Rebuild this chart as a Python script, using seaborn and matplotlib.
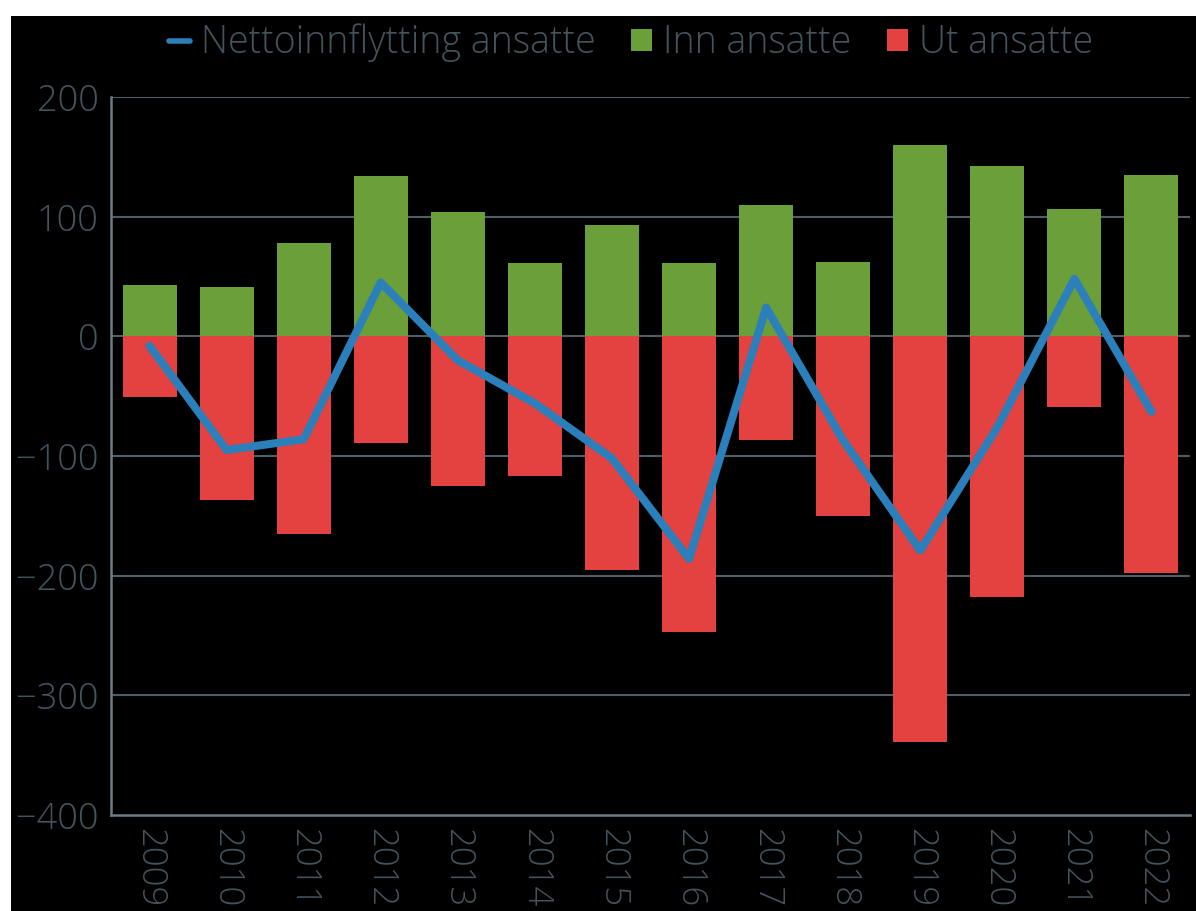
import numpy as np
import pandas as pd
import matplotlib
matplotlib.use("Agg")
import matplotlib.pyplot as plt
import seaborn as sns
from matplotlib.lines import Line2D
from matplotlib.patches import Patch, Rectangle

# Data
years = [str(y) for y in range(2009, 2023)]
inn_ansatte = [43, 41, 78, 134, 104, 61, 93, 61, 110, 62, 160, 142, 106, 135]
ut_ansatte = [-51, -137, -165, -89, -125, -117, -195, -247, -87, -150, -339, -218, -59, -198]
netto = [-8, -95, -86, 45, -20, -56, -102, -186, 24, -87, -179, -76, 48, -63]

GREEN = "#6a9f3a"
RED = "#e34240"
BLUE = "#2b7fba"
TEXT = "#44545d"
GRID = "#4f5e66"
AXIS = "#6b7c86"

sns.set_style("dark")
plt.rcParams["font.family"] = ["Open Sans", "DejaVu Sans"]
plt.rcParams["font.weight"] = "light"

df = pd.DataFrame({"year": years, "inn": inn_ansatte, "ut": ut_ansatte, "netto": netto})

fig = plt.figure(figsize=(11.96, 9.11), dpi=100, facecolor="white")
# svart bakgrunn bak grafen
fig.patches.append(Rectangle((11 / 1196, 0), 1 - 11 / 1196, 1 - 16 / 911,
                             transform=fig.transFigure, facecolor="black",
                             edgecolor="none", zorder=-10))
ax = fig.add_axes([111 / 1196, 1 - 815 / 911, (1190 - 111) / 1196, (815 - 97) / 911])
ax.set_facecolor("black")

sns.barplot(data=df, x="year", y="inn", color=GREEN, width=0.7, saturation=1,
            linewidth=0, edgecolor="none", ax=ax, zorder=2)
sns.barplot(data=df, x="year", y="ut", color=RED, width=0.7, saturation=1,
            linewidth=0, edgecolor="none", ax=ax, zorder=2)
sns.lineplot(x=np.arange(len(years)), y=df["netto"], color=BLUE, linewidth=5.8, ax=ax, zorder=3,
             solid_capstyle="round", solid_joinstyle="round")

ax.set_xlim(-0.5, 13.5)
ax.set_ylim(-400, 200)
ax.set_yticks([-400, -300, -200, -100, 0, 100, 200])
ax.grid(False)
for yv in [-300, -200, -100, 0, 100, 200]:
    ax.axhline(yv, color=GRID, linewidth=1.5, zorder=1)

ax.set_xlabel("")
ax.set_ylabel("")
ax.tick_params(axis="y", length=0, pad=9, labelsize=26, labelcolor=TEXT)
ax.tick_params(axis="x", length=0, pad=9, labelsize=25, labelcolor=TEXT, rotation=-90)

for side in ["top", "right"]:
    ax.spines[side].set_visible(False)
for side in ["left", "bottom"]:
    ax.spines[side].set_visible(True)
    ax.spines[side].set_color(AXIS)
    ax.spines[side].set_linewidth(1.8)

handles = [
    Line2D([0], [0], color=BLUE, linewidth=4),
    Patch(facecolor=GREEN, edgecolor="none"),
    Patch(facecolor=RED, edgecolor="none"),
]
labels = ["Nettoinnflytting ansatte", "Inn ansatte", "Ut ansatte"]
leg = fig.legend(handles, labels, loc="center", bbox_to_anchor=(631 / 1196, 1 - 43 / 911),
                 ncol=3, frameon=False, fontsize=27, labelcolor=TEXT,
                 handlelength=0.55, handleheight=0.55, handletextpad=0.3, columnspacing=0.95)

fig.savefig("out.png", dpi=100, facecolor=fig.get_facecolor())
